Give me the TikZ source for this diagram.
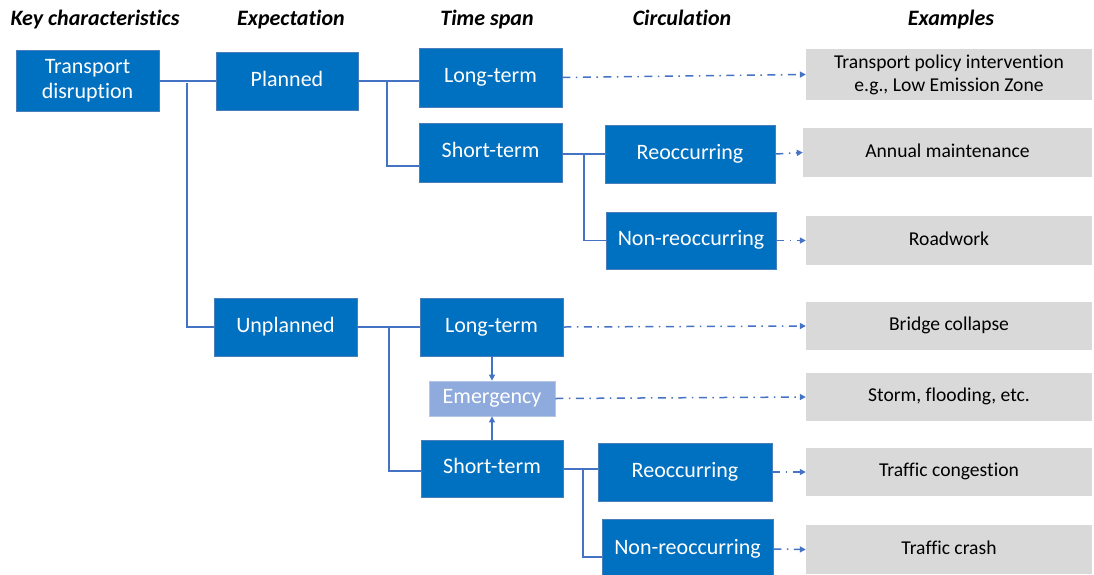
\documentclass[tikz,border=0pt]{standalone}
\usepackage{fontspec}
\setmainfont[Ligatures=NoCommon]{Carlito}
\usetikzlibrary{arrows.meta}
\definecolor{boxblue}{HTML}{0070C0}
\definecolor{boxedge}{HTML}{4A7EBB}
\definecolor{lineblue}{HTML}{4472C4}
\definecolor{emfill}{HTML}{8FAADC}
\definecolor{emedge}{HTML}{B4C7E7}
\definecolor{exgray}{HTML}{D9D9D9}
\tikzset{
  oneline/.style={text height=15pt, text depth=5pt},
  onelinesmall/.style={text height=13.4pt, text depth=4.4pt},
  bluebox/.style={rectangle, fill=boxblue, draw=boxedge, line width=0.8pt,
    text=white, inner sep=0pt, font=\fontsize{22}{25.5}\selectfont},
  embox/.style={rectangle, fill=emfill, draw=emedge, line width=0.8pt,
    text=white, inner sep=0pt, oneline, font=\fontsize{22}{25.5}\selectfont},
  graybox/.style={rectangle, fill=exgray, draw=none, text=black,
    inner sep=0pt, font=\fontsize{19.6}{23}\selectfont},
  header/.style={font=\fontsize{22}{25}\selectfont\bfseries\itshape,
    inner sep=0pt, oneline},
  conn/.style={draw=lineblue, line width=1.5pt},
  upconn/.style={draw=lineblue, line width=1.2pt, -{Triangle[length=6pt,width=6pt]}},
  exarrow/.style={draw=lineblue, line width=1.5pt,
    dash pattern=on 8pt off 5.5pt on 1.5pt off 5.5pt,
    -{Triangle[length=6pt,width=6pt]}},
}
\begin{document}
\begin{tikzpicture}[x=1pt,y=-1pt]
\useasboundingbox (0,0) rectangle (1094,574);

% column headings
\node[header] (h1) at (95,20) {Key characteristics};
\node[header] (h2) at (291,20) {Expectation};
\node[header] (h3) at (487,20) {Time span};
\node[header] (h4) at (682,20) {Circulation};
\node[header] (h5) at (951,20) {Examples};

% classification boxes
\node[bluebox, align=center, minimum width=143pt, minimum height=61pt] (td) at (87.5,80.5) {Transport\\disruption};
\node[bluebox, oneline, minimum width=142pt, minimum height=58pt] (pl) at (287,81) {Planned};
\node[bluebox, oneline, minimum width=143pt, minimum height=59pt] (lt1) at (490.5,77.5) {Long-term};
\node[bluebox, oneline, minimum width=143pt, minimum height=59pt] (st1) at (490.5,152.5) {Short-term};
\node[bluebox, oneline, minimum width=170pt, minimum height=58pt] (re1) at (690,154) {Reoccurring};
\node[bluebox, oneline, minimum width=170pt, minimum height=57pt] (nr1) at (691,240.5) {Non-reoccurring};
\node[bluebox, oneline, minimum width=143pt, minimum height=58pt] (up) at (285.5,327) {Unplanned};
\node[bluebox, oneline, minimum width=143pt, minimum height=58pt] (lt2) at (491.5,327) {Long-term};
\node[embox, minimum width=126pt, minimum height=35pt] (em) at (492,398.5) {Emergency};
\node[bluebox, oneline, minimum width=142pt, minimum height=57pt] (st2) at (492,468.5) {Short-term};
\node[bluebox, oneline, minimum width=174pt, minimum height=58pt] (re2) at (685,472) {Reoccurring};
\node[bluebox, oneline, minimum width=171pt, minimum height=60pt] (nr2) at (687.5,549) {Non-reoccurring};

% example boxes
\node[graybox, align=center, minimum width=286pt, minimum height=51pt] (g1) at (949,74.5) {Transport policy intervention\\e.g., Low Emission Zone};
\node[graybox, onelinesmall, minimum width=289pt, minimum height=49pt] (g2) at (947.5,152.5) {Annual maintenance};
\node[graybox, onelinesmall, minimum width=286pt, minimum height=49pt] (g3) at (949,240.5) {Roadwork};
\node[graybox, onelinesmall, minimum width=286pt, minimum height=48pt] (g4) at (949,326) {Bridge collapse};
\node[graybox, onelinesmall, minimum width=286pt, minimum height=48pt] (g5) at (949,397) {Storm, flooding, etc.};
\node[graybox, onelinesmall, minimum width=286pt, minimum height=48pt] (g6) at (949,472) {Traffic congestion};
\node[graybox, onelinesmall, minimum width=286pt, minimum height=49pt] (g7) at (949,549.5) {Traffic crash};

% tree connectors
\coordinate (j1) at (187,83);
\coordinate (j2) at (387,81);
\coordinate (j3) at (584,154);
\coordinate (j4) at (389,327);
\coordinate (j5) at (583,469);
\draw[conn] (td.east |- 0,81) -- (pl.west |- 0,81);
\draw[conn] (j1) |- (up.west);
\draw[conn] (pl.east) -- (pl.east -| lt1.west);
\draw[conn] (j2) |- ([yshift=-13.5pt]st1.west);
\draw[conn] (st1.east |- j3) -- (re1.west |- j3);
\draw[conn] (j3) |- (nr1.west);
\draw[conn] (up.east) -- (lt2.west);
\draw[conn] (j4) |- ([yshift=-2.5pt]st2.west);
\draw[conn] (st2.east |- j5) -- (re2.west |- j5);
\draw[conn] (j5) |- ([yshift=-8pt]nr2.west);

% emergency links
\draw[upconn] (lt2.south -| em.north) -- (em.north);
\draw[upconn] (st2.north -| em.south) -- (em.south);

% links to examples
\draw[exarrow] (lt1.east) -- (g1.west);
\draw[exarrow] (re1.east) -- (g2.west);
\draw[exarrow] (nr1.east) -- (g3.west);
\draw[exarrow] (lt2.east) -- (g4.west);
\draw[exarrow] (em.east) -- (g5.west);
\draw[exarrow] (re2.east) -- (g6.west);
\draw[exarrow] (nr2.east) -- (g7.west);
\end{tikzpicture}
\end{document}
